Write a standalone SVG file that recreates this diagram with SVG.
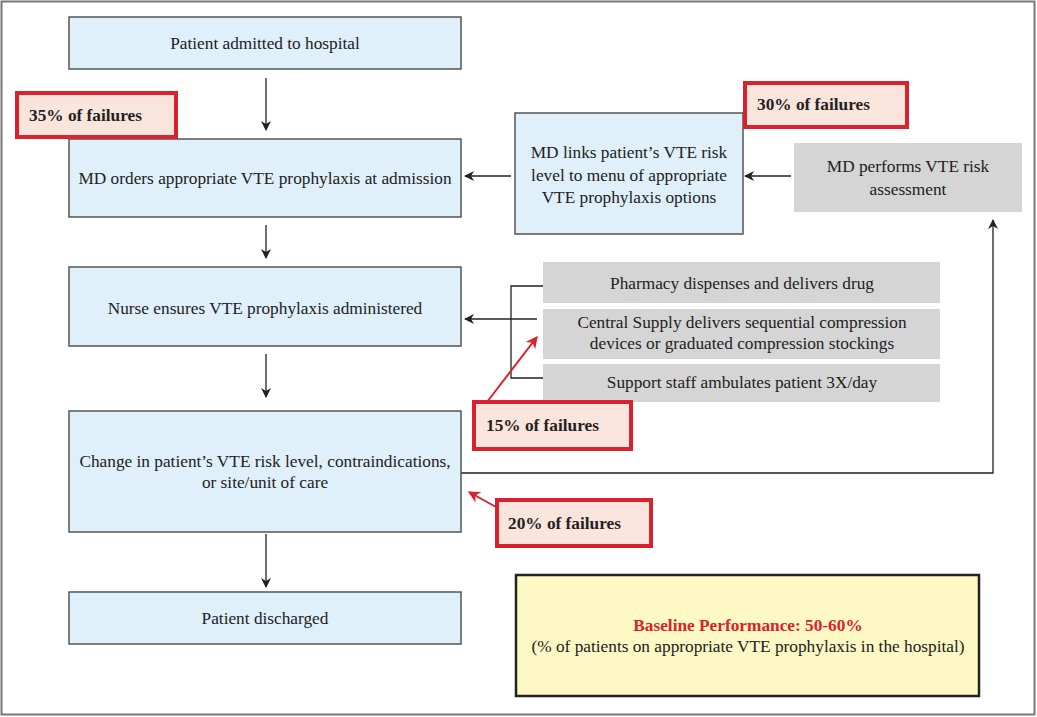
<svg xmlns="http://www.w3.org/2000/svg" width="1037" height="717" viewBox="0 0 1037 717">
<style>
text{font-family:"Liberation Serif","Times New Roman",serif;font-size:17.3px;fill:#222;}
.b{fill:#dff0fb;stroke:#555;stroke-width:1.5;}
.g{fill:#d5d5d5;stroke:none;}
.r{fill:#fae5dc;stroke:#d9222d;stroke-width:4;}
.rt{font-weight:bold;fill:#222;}
.c{text-anchor:middle;}
.ln{stroke:#222;stroke-width:1.3;fill:none;}
.rl{stroke:#d9222d;stroke-width:2;fill:none;}
</style>
<defs>
<marker id="ah" viewBox="0 0 10 10" refX="9" refY="5" markerWidth="10" markerHeight="10" markerUnits="userSpaceOnUse" orient="auto">
<path d="M0,0 L10,5 L0,10 L3,5 Z" fill="#222"/>
</marker>
<marker id="rh" viewBox="0 0 10 10" refX="9" refY="5" markerWidth="12" markerHeight="12" markerUnits="userSpaceOnUse" orient="auto">
<path d="M0,0 L10,5 L0,10 L3,5 Z" fill="#d9222d"/>
</marker>
</defs>
<rect x="0" y="0" width="1037" height="717" fill="#fff"/>
<rect x="1.5" y="1.5" width="1033" height="713" fill="none" stroke="#777" stroke-width="2"/>

<g id="connectors">
<line class="ln" x1="266" y1="78" x2="266" y2="130" marker-end="url(#ah)"/>
<line class="ln" x1="266" y1="225" x2="266" y2="258" marker-end="url(#ah)"/>
<line class="ln" x1="266" y1="354" x2="266" y2="397" marker-end="url(#ah)"/>
<line class="ln" x1="266" y1="534" x2="266" y2="587" marker-end="url(#ah)"/>
<line class="ln" x1="511" y1="176" x2="465" y2="176" marker-end="url(#ah)"/>
<line class="ln" x1="791" y1="176" x2="745" y2="176" marker-end="url(#ah)"/>
<polyline class="ln" points="543,286 511,286 511,378 543,378"/>
<line class="ln" x1="537" y1="319" x2="465" y2="319" marker-end="url(#ah)"/>
<polyline class="ln" points="461,473 993,473 993,220" marker-end="url(#ah)"/>
<line class="rl" x1="86" y1="139" x2="100" y2="165" marker-end="url(#rh)"/>
<line class="rl" x1="745" y1="120" x2="719" y2="140" marker-end="url(#rh)"/>
<line class="rl" x1="487" y1="402" x2="537" y2="337" marker-end="url(#rh)"/>
<line class="rl" x1="496" y1="507" x2="469" y2="492" marker-end="url(#rh)"/>
</g>

<g id="n-admitted"><rect class="b" x="69" y="17" width="392" height="52"/><text class="c" x="265" y="49">Patient admitted to hospital</text></g>
<g id="n-orders"><rect class="b" x="69" y="139" width="392" height="78"/><text class="c" x="265" y="184">MD orders appropriate VTE prophylaxis at admission</text></g>
<g id="n-nurse"><rect class="b" x="69" y="267" width="392" height="79"/><text class="c" x="265" y="314">Nurse ensures VTE prophylaxis administered</text></g>
<g id="n-change"><rect class="b" x="69" y="411" width="392" height="121"/><text class="c" x="265" y="467">Change in patient’s VTE risk level, contraindications,</text><text class="c" x="265" y="488">or site/unit of care</text></g>
<g id="n-discharged"><rect class="b" x="69" y="592" width="392" height="52"/><text class="c" x="265" y="624">Patient discharged</text></g>
<g id="n-links"><rect class="b" x="515" y="113" width="228" height="121"/><text class="c" x="629" y="158">MD links patient’s VTE risk</text><text class="c" x="629" y="181">level to menu of appropriate</text><text class="c" x="629" y="203">VTE prophylaxis options</text></g>
<g id="n-assess"><rect class="g" x="794" y="143" width="228" height="69"/><text class="c" x="908" y="172">MD performs VTE risk</text><text class="c" x="908" y="195">assessment</text></g>
<g id="n-pharmacy"><rect class="g" x="543" y="262" width="397" height="41"/><text class="c" x="742" y="289">Pharmacy dispenses and delivers drug</text></g>
<g id="n-central"><rect class="g" x="543" y="309" width="397" height="50"/><text class="c" x="742" y="328">Central Supply delivers sequential compression</text><text class="c" x="742" y="349">devices or graduated compression stockings</text></g>
<g id="n-support"><rect class="g" x="543" y="364" width="397" height="38"/><text class="c" x="742" y="388">Support staff ambulates patient 3X/day</text></g>
<g id="n-f35"><rect class="r" x="17" y="93" width="159" height="44"/><text class="rt" x="29" y="121">35% of failures</text></g>
<g id="n-f30"><rect class="r" x="745" y="83" width="162" height="44"/><text class="rt" x="757" y="110">30% of failures</text></g>
<g id="n-f15"><rect class="r" x="474" y="402" width="157" height="47"/><text class="rt" x="486" y="431">15% of failures</text></g>
<g id="n-f20"><rect class="r" x="497" y="500" width="154" height="46"/><text class="rt" x="508" y="529">20% of failures</text></g>
<g id="n-baseline"><rect x="516" y="575" width="463" height="121" fill="#fdf8c4" stroke="#222" stroke-width="2.5"/><text class="c" x="748" y="631" style="fill:#d9222d;font-weight:bold">Baseline Performance: 50-60%</text><text class="c" x="748" y="652">(% of patients on appropriate VTE prophylaxis in the hospital)</text></g>
</svg>
